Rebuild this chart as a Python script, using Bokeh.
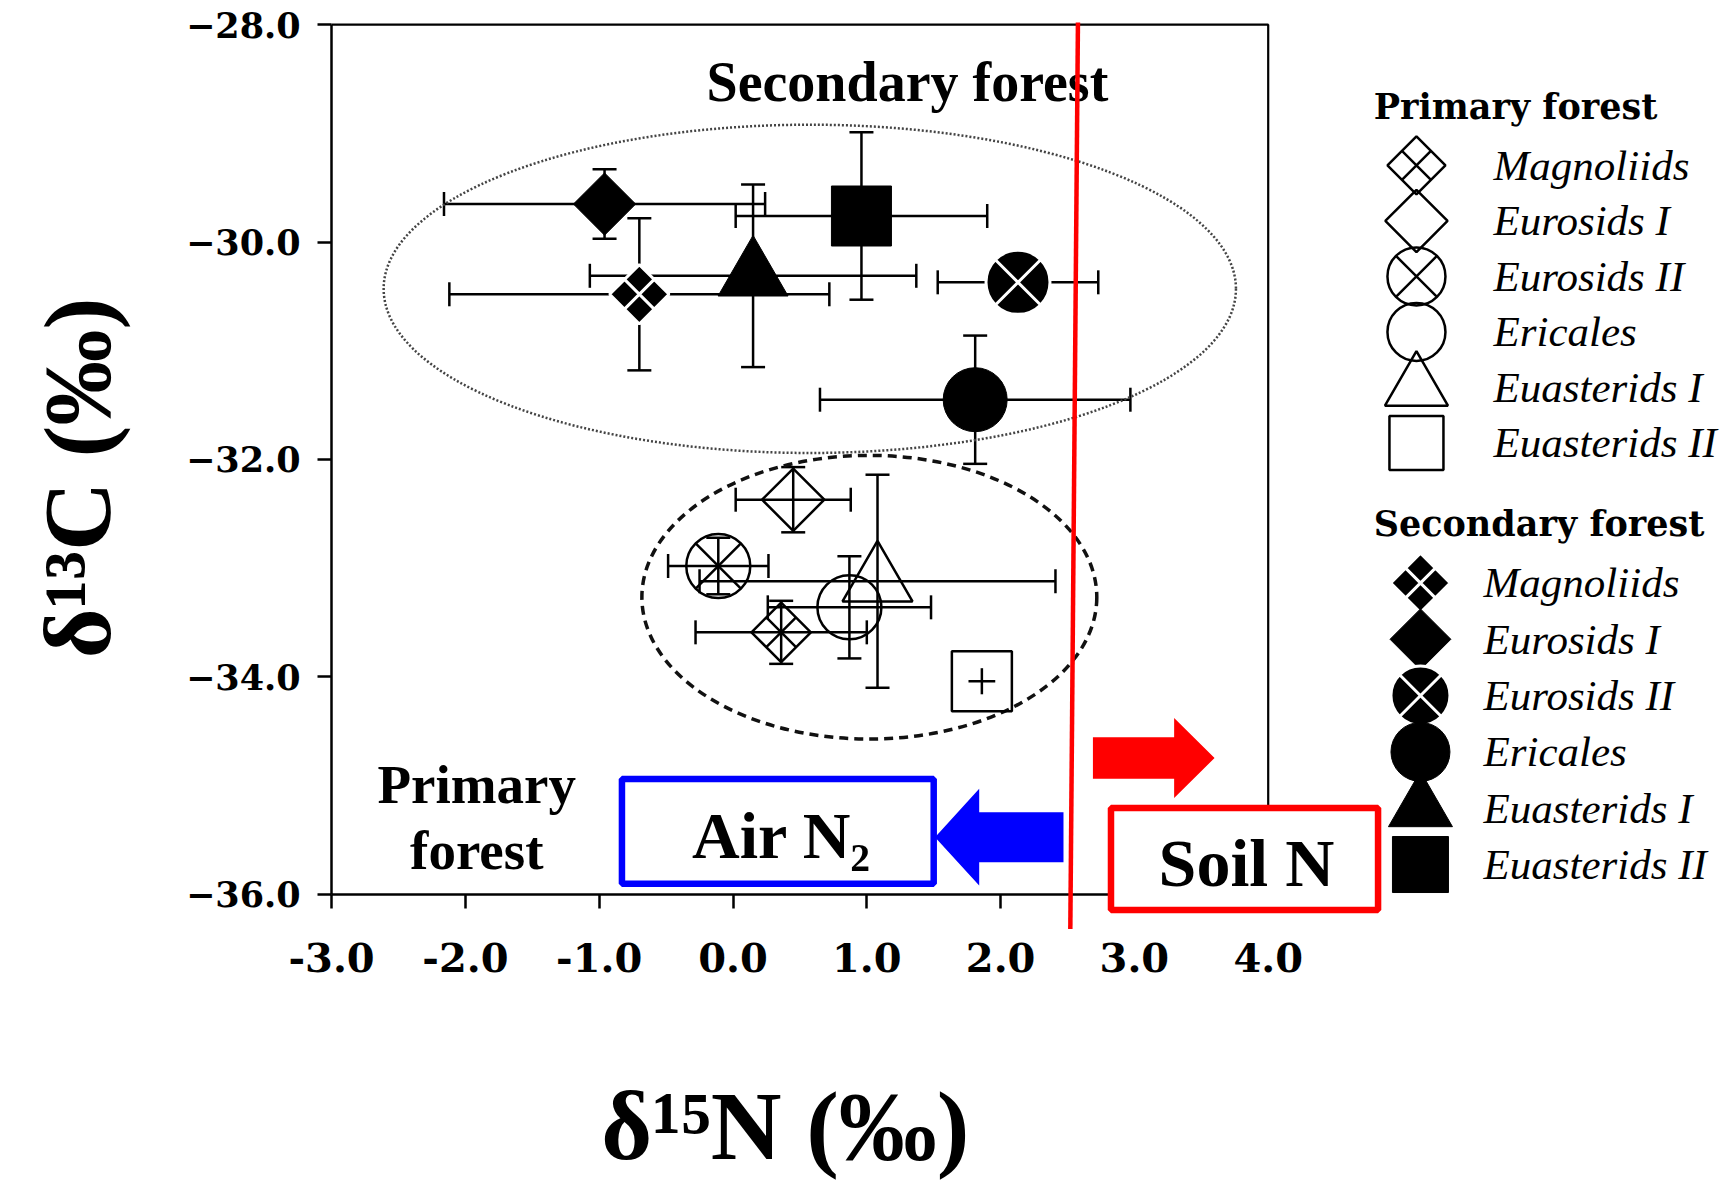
import numpy as np
from bokeh.plotting import figure
from bokeh.models import (Range1d, LinearAxis, FixedTicker, PrintfTickFormatter,
                          CustomJSTickFormatter, ColumnDataSource, Whisker, TeeHead,
                          Label, BoxAnnotation)
from bokeh.embed import file_html
from bokeh.resources import INLINE

# ---------------- data ----------------
clades = ["Magnoliids", "Eurosids I", "Eurosids II", "Ericales", "Euasterids I", "Euasterids II"]

primary_n15 = [0.36, 0.45, -0.11, 0.87, 1.08, 1.86]
primary_c13 = [-33.59, -32.37, -32.98, -33.36, -33.12, -34.04]
primary_n15_err = [0.64, 0.43, 0.375, 0.61, 1.33, 0.10]
primary_c13_err = [0.29, 0.30, 0.26, 0.47, 0.98, 0.12]

secondary_n15 = [-0.70, -0.96, 2.13, 1.81, 0.15, 0.96]
secondary_c13 = [-30.48, -29.65, -30.37, -31.45, -30.31, -29.76]
secondary_n15_err = [1.42, 1.20, 0.60, 1.16, 1.22, 0.94]
secondary_c13_err = [0.70, 0.32, 0.20, 0.59, 0.84, 0.77]

x_ticks = [-3.0, -2.0, -1.0, 0.0, 1.0, 2.0, 3.0, 4.0]
y_ticks = [-36.0, -34.0, -32.0, -30.0, -28.0]

x_title = "δ¹⁵N (‰)"
y_title = "δ¹³C (‰)"

# group ellipses (centre, width, height in data units)
ellipse_names = ["Secondary forest", "Primary forest"]
ellipse_x = [0.574, 1.019]
ellipse_y = [-30.43, -33.267]
ellipse_w = [6.37, 3.40]
ellipse_h = [3.02, 2.61]

# ---------------- styles ----------------
MARKER = {"Magnoliids": "square_cross", "Eurosids I": "square", "Eurosids II": "circle_x",
          "Ericales": "circle", "Euasterids I": "triangle", "Euasterids II": "square"}
ANGLE = {"Magnoliids": np.pi / 4, "Eurosids I": np.pi / 4}
PLOT_SIZE = {"Magnoliids": 42, "Eurosids I": 44, "Eurosids II": 64, "Ericales": 64,
             "Euasterids I": 70, "Euasterids II": 60}
LEG_SIZE_P = {"Magnoliids": 41, "Eurosids I": 44, "Eurosids II": 58, "Ericales": 58,
              "Euasterids I": 63, "Euasterids II": 54}
LEG_SIZE_S = {"Magnoliids": 42, "Eurosids I": 43, "Eurosids II": 59, "Ericales": 59,
              "Euasterids I": 64, "Euasterids II": 56}
WHITE_LINED = {"Magnoliids", "Eurosids II"}

W, H = 1724, 1181
p = figure(width=W, height=H, x_range=Range1d(-5.4746, 7.4103), y_range=Range1d(-38.6421, -27.7774),
           x_axis_location=None, y_axis_location=None, toolbar_location=None,
           output_backend="svg", min_border=0, min_border_left=0, min_border_right=0,
           min_border_top=0, min_border_bottom=0, background_fill_color="white",
           border_fill_color="white", outline_line_color=None)
p.grid.visible = False


def style_axis(ax, label_size):
    ax.major_label_text_font = "DejaVu Serif"
    ax.major_label_text_font_style = "bold"
    ax.major_label_text_font_size = label_size
    ax.major_label_text_color = "black"
    ax.major_tick_out = 14
    ax.major_tick_in = 0
    ax.minor_tick_out = 0
    ax.minor_tick_in = 0
    ax.axis_line_width = 2.5
    ax.axis_line_color = "black"
    ax.major_tick_line_width = 2.5
    ax.major_tick_line_color = "black"


# y axis fixed at the left edge of the data box
ya = LinearAxis(fixed_location=x_ticks[0], bounds=(y_ticks[0], y_ticks[-1]),
                ticker=FixedTicker(ticks=y_ticks),
                formatter=CustomJSTickFormatter(code="return '\u2212' + Math.abs(tick).toFixed(1);"))
style_axis(ya, "35px")
ya.major_label_standoff = 17
p.add_layout(ya, "left")

# x axis fixed at the bottom of the data box
xa = LinearAxis(fixed_location=y_ticks[0], bounds=(x_ticks[0], x_ticks[-1]),
                ticker=FixedTicker(ticks=x_ticks), formatter=PrintfTickFormatter(format="%.1f"))
style_axis(xa, "40px")
xa.major_label_standoff = 35
p.add_layout(xa, "below")


def text(x, y, s, font, style, size, align="left", angle=0.0):
    p.add_layout(Label(x=x, y=y, text=s, text_font=font, text_font_style=style,
                       text_font_size=size, text_align=align, text_baseline="middle",
                       text_color="black", angle=angle))


# axis titles
text(0.391, -38.133, x_title, "Liberation Serif", "bold", "98px", "center")
text(-4.902, -32.17, y_title, "Liberation Serif", "bold", "96px", "center", np.pi / 2)

# top and right borders of the data box
p.line([x_ticks[0], x_ticks[-1], x_ticks[-1]], [y_ticks[-1], y_ticks[-1], y_ticks[0]],
       line_color="black", line_width=2.2)

# ellipses
p.ellipse(x=[ellipse_x[0]], y=[ellipse_y[0]], width=[ellipse_w[0]], height=[ellipse_h[0]],
          fill_color=None, line_color="#444444", line_width=2.5, line_dash="2 2")
p.ellipse(x=[ellipse_x[1]], y=[ellipse_y[1]], width=[ellipse_w[1]], height=[ellipse_h[1]],
          fill_color=None, line_color="#111111", line_width=3.5, line_dash="9 6")


def series_source(xv, yv, sizes):
    return ColumnDataSource(dict(
        x=xv, y=yv, clade=clades,
        marker=[MARKER[c] for c in clades], angle=[ANGLE.get(c, 0.0) for c in clades],
        size=[sizes[c] for c in clades],
        lc=["white" if c in WHITE_LINED else "black" for c in clades],
        lw=[3.0 if c in WHITE_LINED else 1.0 for c in clades]))


def add_whiskers(xv, yv, xe, ye):
    for capped in (True, False):
        idx_x = [i for i in range(len(xv)) if (xe[i] >= 0.15) == capped]
        idx_y = [i for i in range(len(xv)) if (ye[i] >= 0.15) == capped]
        for idx, dim in ((idx_x, "width"), (idx_y, "height")):
            if not idx:
                continue
            if dim == "width":
                src = ColumnDataSource(dict(base=[yv[i] for i in idx],
                                            lower=[xv[i] - xe[i] for i in idx],
                                            upper=[xv[i] + xe[i] for i in idx]))
            else:
                src = ColumnDataSource(dict(base=[xv[i] for i in idx],
                                            lower=[yv[i] - ye[i] for i in idx],
                                            upper=[yv[i] + ye[i] for i in idx]))
            heads = dict(upper_head=TeeHead(size=24, line_width=2.5, line_color="black"),
                         lower_head=TeeHead(size=24, line_width=2.5, line_color="black")) if capped \
                else dict(upper_head=None, lower_head=None)
            p.add_layout(Whisker(source=src, base="base", lower="lower", upper="upper",
                                 dimension=dim, line_color="black", line_width=2.5, **heads))


add_whiskers(secondary_n15, secondary_c13, secondary_n15_err, secondary_c13_err)
add_whiskers(primary_n15, primary_c13, primary_n15_err, primary_c13_err)

src_s = series_source(secondary_n15, secondary_c13, PLOT_SIZE)
src_p = series_source(primary_n15, primary_c13, PLOT_SIZE)
p.scatter(x="x", y="y", source=src_s, marker="marker", size="size", angle="angle",
          fill_color="black", line_color="lc", line_width="lw")
p.scatter(x="x", y="y", source=src_p, marker="marker", size="size", angle="angle",
          fill_color=None, line_color="black", line_width=2.5)

# ---------------- legend (drawn by hand) ----------------
LEG_P = dict(title_x=4.788, title_y=-28.748, mx=5.108, my0=-29.295, step=0.5106, lx=5.684)
LEG_S = dict(title_x=4.788, title_y=-32.593, mx=5.138, my0=-33.136, step=0.518, lx=5.609)
for leg, title, filled, sizes in ((LEG_P, "Primary forest", False, LEG_SIZE_P),
                                  (LEG_S, "Secondary forest", True, LEG_SIZE_S)):
    ys = [leg["my0"] - i * leg["step"] for i in range(len(clades))]
    src = ColumnDataSource(dict(
        x=[leg["mx"]] * len(clades), y=ys,
        marker=[MARKER[c] for c in clades], angle=[ANGLE.get(c, 0.0) for c in clades],
        size=[sizes[c] for c in clades],
        lc=["white" if (filled and c in WHITE_LINED) else "black" for c in clades],
        lw=[3.0 if (filled and c in WHITE_LINED) else (1.0 if filled else 2.5) for c in clades]))
    p.scatter(x="x", y="y", source=src, marker="marker", size="size", angle="angle",
              fill_color="black" if filled else None, line_color="lc", line_width="lw")
    text(leg["title_x"], leg["title_y"], title, "DejaVu Serif", "bold", "35px")
    for c, yy in zip(clades, ys):
        text(leg["lx"], yy, c, "Liberation Serif", "italic", "43px")

# ---------------- annotations ----------------
text(-0.198, -28.527, "Secondary forest", "Liberation Serif", "bold", "56px")
text(-1.915, -34.986, "Primary", "Liberation Serif", "bold", "55px", "center")
text(-1.915, -35.599, "forest", "Liberation Serif", "bold", "55px", "center")

# source boxes
AIR_BOX = dict(left=-0.830, right=1.50, top=-34.939, bottom=-35.902)
SOIL_BOX = dict(left=2.825, right=4.821, top=-35.206, bottom=-36.144)
p.add_layout(BoxAnnotation(**AIR_BOX, fill_color="white", fill_alpha=1.0,
                           line_color="#0000FF", line_width=6.5, line_alpha=1.0))
p.add_layout(BoxAnnotation(**SOIL_BOX, fill_color="white", fill_alpha=1.0,
                           line_color="#FF0000", line_width=6.5, line_alpha=1.0))
text(-0.306, -35.461, "Air N₂", "Liberation Serif", "bold", "66px")
text(3.181, -35.713, "Soil N", "Liberation Serif", "bold", "68px")


# block arrows
def arrow_shape(tail, head_base, tip, yc, body_h, head_h):
    xs = [tail, head_base, head_base, tip, head_base, head_base, tail]
    ys = [yc + body_h, yc + body_h, yc + head_h, yc, yc - head_h, yc - body_h, yc - body_h]
    return xs, ys


BLUE_ARROW = dict(tail=2.47, head_base=1.84, tip=1.51, yc=-35.475, body_h=0.23, head_h=0.445)
RED_ARROW = dict(tail=2.69, head_base=3.297, tip=3.599, yc=-34.746, body_h=0.191, head_h=0.368)
bx, by = arrow_shape(**BLUE_ARROW)
rx, ry = arrow_shape(**RED_ARROW)
p.patch(bx, by, fill_color="#0000FF", line_color=None)
p.patch(rx, ry, fill_color="#FF0000", line_color=None)

# red dividing line
RED_LINE = dict(x0=[2.578], y0=[-27.98], x1=[2.521], y1=[-36.32])
rl = p.segment(**RED_LINE, line_color="#FF0000", line_width=4.5)
rl.level = "overlay"

with open("out.html", "w", encoding="utf-8") as f:
    f.write(file_html(p, INLINE))
